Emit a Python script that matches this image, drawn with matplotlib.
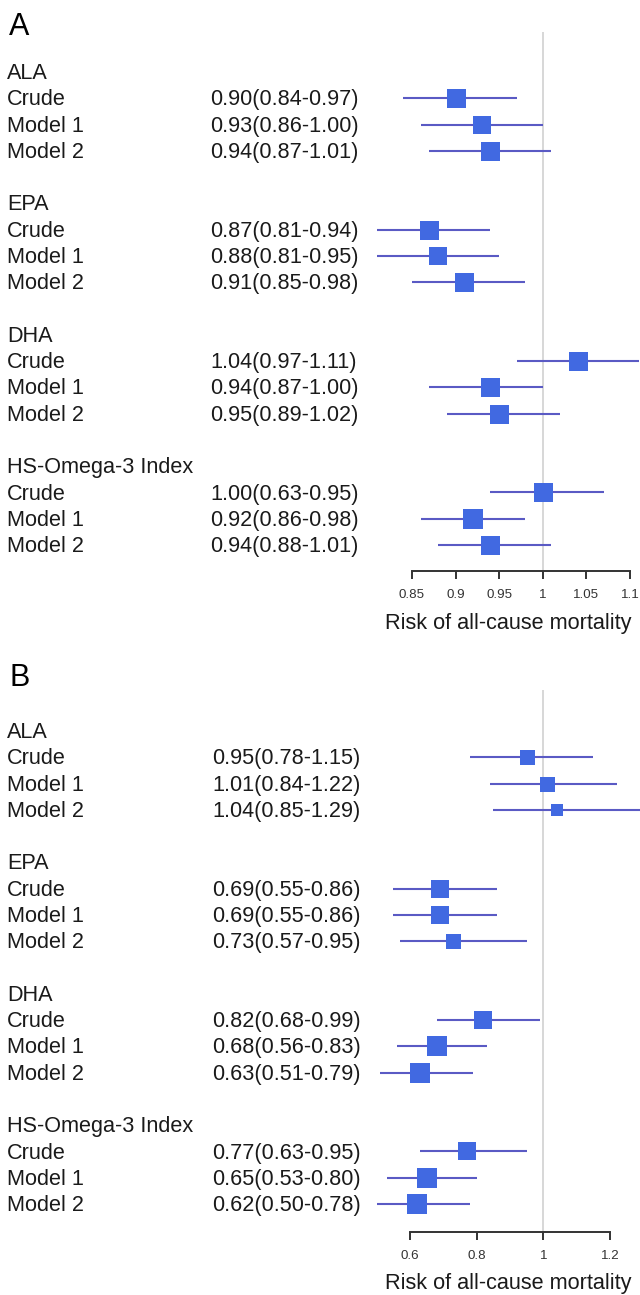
import matplotlib
matplotlib.use("Agg")
import matplotlib.pyplot as plt
from matplotlib.transforms import blended_transform_factory

plt.rcParams['font.family'] = ['Liberation Sans', 'DejaVu Sans']

groups = ["ALA", "EPA", "DHA", "HS-Omega-3 Index"]
models = ["Crude", "Model 1", "Model 2"]

# Panel A
a_labels = ["0.90(0.84-0.97)", "0.93(0.86-1.00)", "0.94(0.87-1.01)",
            "0.87(0.81-0.94)", "0.88(0.81-0.95)", "0.91(0.85-0.98)",
            "1.04(0.97-1.11)", "0.94(0.87-1.00)", "0.95(0.89-1.02)",
            "1.00(0.63-0.95)", "0.92(0.86-0.98)", "0.94(0.88-1.01)"]
a_est = [0.90, 0.93, 0.94, 0.87, 0.88, 0.91, 1.04, 0.94, 0.95, 1.00, 0.92, 0.94]
a_lo = [0.84, 0.86, 0.87, 0.81, 0.81, 0.85, 0.97, 0.87, 0.89, 0.94, 0.86, 0.88]
a_hi = [0.97, 1.00, 1.01, 0.94, 0.95, 0.98, 1.11, 1.00, 1.02, 1.07, 0.98, 1.01]
a_box = [19, 18.5, 19, 19, 18.5, 19, 19, 19, 19, 19, 20.5, 19]
a_ticks = [0.85, 0.9, 0.95, 1, 1.05, 1.1]
a_ticklabels = ["0.85", "0.9", "0.95", "1", "1.05", "1.1"]

# Panel B
b_labels = ["0.95(0.78-1.15)", "1.01(0.84-1.22)", "1.04(0.85-1.29)",
            "0.69(0.55-0.86)", "0.69(0.55-0.86)", "0.73(0.57-0.95)",
            "0.82(0.68-0.99)", "0.68(0.56-0.83)", "0.63(0.51-0.79)",
            "0.77(0.63-0.95)", "0.65(0.53-0.80)", "0.62(0.50-0.78)"]
b_est = [0.95, 1.01, 1.04, 0.69, 0.69, 0.73, 0.82, 0.68, 0.63, 0.77, 0.65, 0.62]
b_lo = [0.78, 0.84, 0.85, 0.55, 0.55, 0.57, 0.68, 0.56, 0.51, 0.63, 0.53, 0.50]
b_hi = [1.15, 1.22, 1.29, 0.86, 0.86, 0.95, 0.99, 0.83, 0.79, 0.95, 0.80, 0.78]
b_box = [15, 15, 12.7, 18, 18, 15, 18.3, 20.7, 20.7, 17.7, 20.7, 20.7]
b_ticks = [0.6, 0.8, 1.0, 1.2]
b_ticklabels = ["0.6", "0.8", "1", "1.2"]

xlabel = "Risk of all-cause mortality"

W, H = 640, 1295
fig = plt.figure(figsize=(W / 100, H / 100), dpi=100)

LINE_C = '#5a5ac4'
BOX_C = '#4169e1'
TXT_C = '#1a1a1a'
ROW = 26.28


def panel(letter, letter_y, top_px, axis_px, first_row_px, xlim, ticks, ticklabels,
          labels, est, lo, hi, box, ci_x, xlabel_px):
    ax = fig.add_axes([0, 1 - axis_px / H, 1, (axis_px - top_px) / H])
    ax.set_xlim(*xlim)
    ax.set_ylim((axis_px - first_row_px) / ROW, (top_px - first_row_px) / ROW)
    ax.axvline(1.0, color='#d4d4d4', lw=1.3, zorder=0)
    tr = blended_transform_factory(fig.transFigure, ax.transData)
    k = 0
    for g, name in enumerate(groups):
        r0 = 5 * g
        ax.text(7 / W, r0 + 0.06, name, transform=tr, ha='left', va='center',
                fontsize=15.6, color=TXT_C)
        for m, mname in enumerate(models):
            r = r0 + 1 + m
            ax.text(7 / W, r + 0.06, mname, transform=tr, ha='left', va='center',
                    fontsize=15.6, color=TXT_C)
            ax.text(ci_x / W, r + 0.06, labels[k], transform=tr, ha='left', va='center',
                    fontsize=15.6, color=TXT_C)
            ax.plot([lo[k], hi[k]], [r, r], color=LINE_C, lw=1.5,
                    solid_capstyle='butt', zorder=2, clip_on=False)
            ax.plot([est[k]], [r], marker='s', ms=box[k] * 0.72, color=BOX_C,
                    mec=BOX_C, mew=0, zorder=3, clip_on=False)
            k += 1
    for s in ['top', 'left', 'right']:
        ax.spines[s].set_visible(False)
    ax.spines['bottom'].set_bounds(ticks[0], ticks[-1])
    ax.spines['bottom'].set_color('#333333')
    ax.spines['bottom'].set_linewidth(1.4)
    ax.set_yticks([])
    ax.set_xticks(ticks)
    ax.set_xticklabels(ticklabels)
    ax.tick_params(axis='x', direction='out', length=6, width=1.4, color='#333333',
                   labelsize=9.6, labelcolor='#333333', pad=7)
    fig.text(508 / W, 1 - xlabel_px / H, xlabel, ha='center', va='center',
             fontsize=15.6, color=TXT_C)
    fig.text(9 / W, 1 - letter_y / H, letter, ha='left', va='center',
             fontsize=22, color='black')
    return ax


panel("A", 27, 32, 571, 72, (0.3775, 1.1115), a_ticks, a_ticklabels,
      a_labels, a_est, a_lo, a_hi, a_box, 210, 623)
panel("B", 678, 690, 1232, 731, (-0.630, 1.290), b_ticks, b_ticklabels,
      b_labels, b_est, b_lo, b_hi, b_box, 212, 1283)

fig.savefig("out.png", dpi=100)
